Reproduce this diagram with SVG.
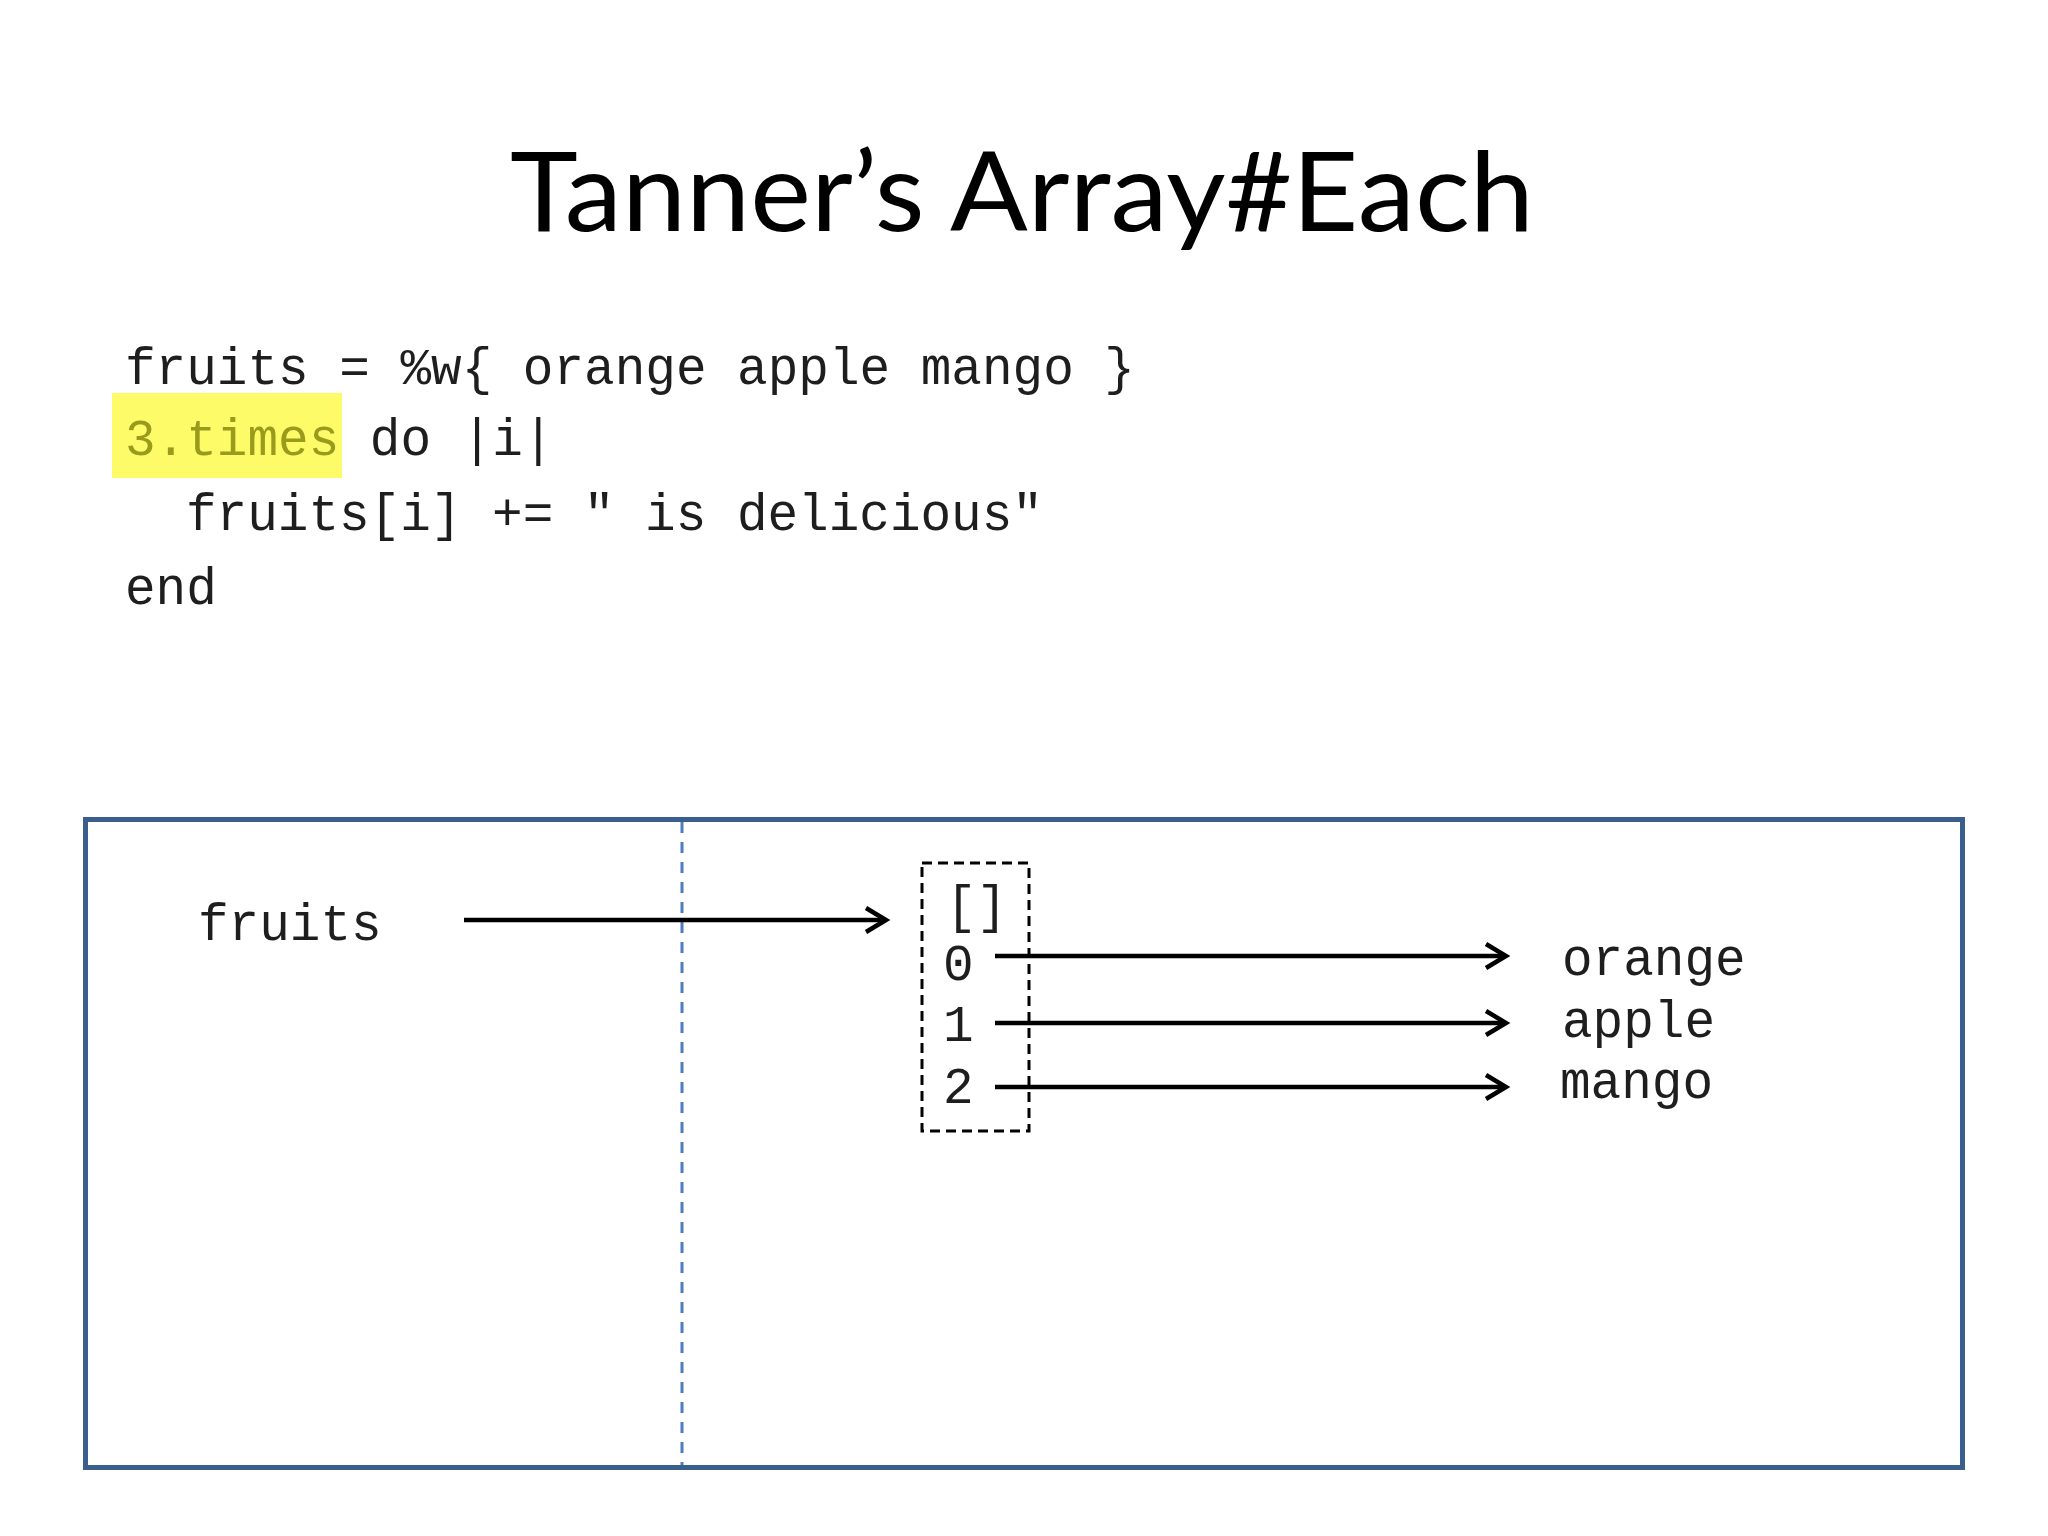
<svg xmlns="http://www.w3.org/2000/svg" width="2048" height="1536" viewBox="0 0 2048 1536">
  <style>
    .title { font-family: Lato, "Open Sans", "Liberation Sans", sans-serif; font-size: 110px; fill: #000; }
    .code { font-family: "Liberation Mono", "DejaVu Sans Mono", monospace; font-size: 51px; fill: #1e1e1e; }
    .hl { fill: #9a9a1c; }
    .conn { stroke: #000; stroke-width: 4.5; fill: none; }
  </style>
  <defs>
    <marker id="chev" markerUnits="userSpaceOnUse" markerWidth="30" markerHeight="30" viewBox="-24 -15 30 30" refX="0" refY="0" orient="auto">
      <path d="M-20,-12 L0,0 L-20,12" fill="none" stroke="#000" stroke-width="4.5" stroke-linejoin="miter"/>
    </marker>
  </defs>
  <rect width="2048" height="1536" fill="#ffffff"/>

  <g id="title">
    <text class="title" x="510" y="231" textLength="1024" lengthAdjust="spacingAndGlyphs">Tanner’s Array#Each</text>
  </g>

  <g id="code">
    <rect x="112" y="393" width="230" height="85" fill="#fdfb67"/>
    <text class="code" x="125" y="384">fruits = %w{ orange apple mango }</text>
    <text class="code" x="125" y="455"><tspan class="hl">3.times</tspan> do |i|</text>
    <text class="code" x="186" y="530">fruits[i] += " is delicious"</text>
    <text class="code" x="125" y="604">end</text>
  </g>

  <g id="frame">
    <rect x="85.5" y="819.5" width="1877" height="648" fill="none" stroke="#3a5f8f" stroke-width="5"/>
    <line x1="682" y1="822" x2="682" y2="1465" stroke="#4f7cbf" stroke-width="3" stroke-dasharray="11 9"/>
  </g>

  <g id="fruits-var">
    <text class="code" x="198" y="940">fruits</text>
  </g>

  <g id="array">
    <rect x="922" y="863" width="107" height="268" fill="none" stroke="#000" stroke-width="3" stroke-dasharray="10 6"/>
    <text class="code" x="946" y="922">[]</text>
    <text class="code" x="943" y="980">0</text>
    <text class="code" x="943" y="1041">1</text>
    <text class="code" x="943" y="1103">2</text>
  </g>

  <g id="values">
    <text class="code" x="1562" y="975">orange</text>
    <text class="code" x="1562" y="1037">apple</text>
    <text class="code" x="1560" y="1098">mango</text>
  </g>

  <g id="connectors">
    <line class="conn" x1="464" y1="920" x2="886" y2="920" marker-end="url(#chev)"/>
    <line class="conn" x1="995" y1="956" x2="1506" y2="956" marker-end="url(#chev)"/>
    <line class="conn" x1="995" y1="1023" x2="1506" y2="1023" marker-end="url(#chev)"/>
    <line class="conn" x1="995" y1="1087" x2="1506" y2="1087" marker-end="url(#chev)"/>
  </g>
</svg>
